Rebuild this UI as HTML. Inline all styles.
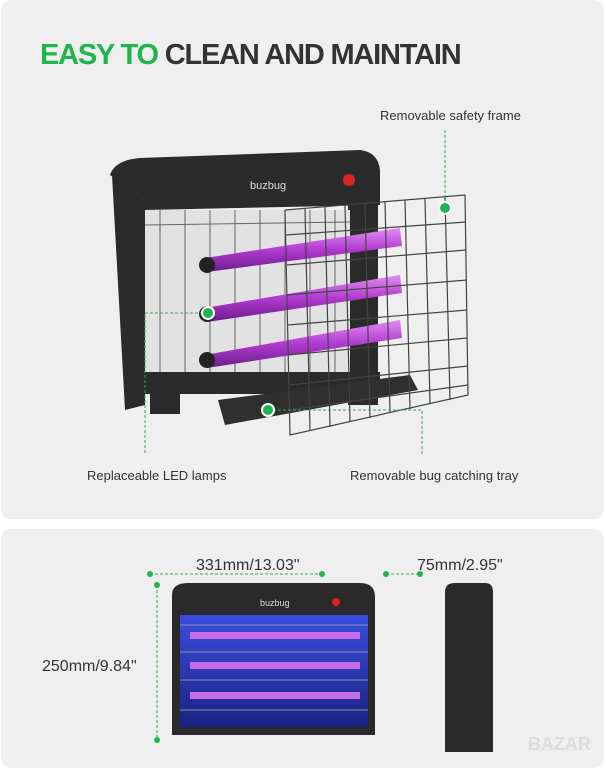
<!DOCTYPE html><html><head><style>
body{margin:0;width:606px;height:768px;background:#fff;overflow:hidden;font-family:"Liberation Sans",sans-serif}
</style></head><body>
<svg width="606" height="768" xmlns="http://www.w3.org/2000/svg" font-family="Liberation Sans, sans-serif">
<defs>
<linearGradient id="uv" x1="0" y1="0" x2="0" y2="1"><stop offset="0" stop-color="#e08cf0"/><stop offset="0.5" stop-color="#b03ad0"/><stop offset="1" stop-color="#6a1c8a"/></linearGradient>
<linearGradient id="blue" x1="0" y1="0" x2="0" y2="1"><stop offset="0" stop-color="#3a4de0"/><stop offset="1" stop-color="#1a2280"/></linearGradient>
</defs>
<rect x="1" y="0" width="603" height="519" rx="10" fill="#efefef"/>
<rect x="1" y="529" width="603" height="239" rx="10" fill="#efefef"/>
<text x="40" y="64" font-size="29" font-weight="bold" letter-spacing="-1.2"><tspan fill="#1fb54a">EASY TO</tspan><tspan fill="#333"> CLEAN AND MAINTAIN</tspan></text>
<!-- main unit frame -->
<path d="M110 175 Q115 160 140 158 L360 150 Q378 152 380 170 L380 205 L145 210 L145 200 Z" fill="#2b2b2b"/>
<path d="M112 175 L145 200 L145 405 L125 410 Z" fill="#2b2b2b"/>
<rect x="348" y="190" width="30" height="215" fill="#2b2b2b"/>
<rect x="145" y="210" width="205" height="165" fill="#e2e2e2"/>
<g stroke="#666" stroke-width="1">
<line x1="160" y1="210" x2="160" y2="375"/><line x1="185" y1="210" x2="185" y2="375"/><line x1="210" y1="210" x2="210" y2="375"/><line x1="235" y1="210" x2="235" y2="375"/><line x1="260" y1="210" x2="260" y2="375"/><line x1="285" y1="210" x2="285" y2="375"/><line x1="310" y1="210" x2="310" y2="375"/><line x1="335" y1="210" x2="335" y2="375"/>
<line x1="145" y1="225" x2="350" y2="222"/>
</g>
<rect x="140" y="372" width="240" height="22" fill="#2b2b2b"/>
<rect x="150" y="394" width="30" height="20" fill="#2b2b2b"/>
<text x="250" y="189" font-size="11" fill="#ddd">buzbug</text>
<circle cx="349" cy="180" r="6" fill="#d22"/>
<g>
<polygon points="205,258 400,228 402,246 207,272" fill="url(#uv)"/>
<polygon points="205,308 400,275 402,293 207,322" fill="url(#uv)"/>
<polygon points="205,355 400,320 402,338 207,368" fill="url(#uv)"/>
<circle cx="207" cy="265" r="8" fill="#222"/><circle cx="207" cy="314" r="8" fill="#222"/><circle cx="207" cy="360" r="8" fill="#222"/>
</g>
<polygon points="218,400 410,375 418,390 225,425" fill="#2f2f2f"/>
<g stroke="#444" stroke-width="1.2" fill="none">
<polygon points="285,210 465,195 468,395 290,435"/>
<line x1="305" y1="209" x2="310" y2="431"/><line x1="325" y1="207" x2="330" y2="427"/><line x1="345" y1="205" x2="350" y2="422"/><line x1="365" y1="204" x2="370" y2="418"/><line x1="385" y1="202" x2="390" y2="413"/><line x1="405" y1="200" x2="410" y2="409"/><line x1="425" y1="199" x2="430" y2="404"/><line x1="445" y1="197" x2="450" y2="400"/>
<line x1="286" y1="235" x2="466" y2="222"/><line x1="287" y1="265" x2="466" y2="250"/><line x1="287" y1="295" x2="467" y2="280"/><line x1="288" y1="325" x2="467" y2="310"/><line x1="288" y1="355" x2="467" y2="338"/><line x1="289" y1="385" x2="468" y2="366"/><line x1="289" y1="410" x2="468" y2="385"/>
</g>
<g stroke="#3aa655" stroke-width="1" stroke-dasharray="3,2" fill="none">
<polyline points="445,208 445,130"/><polyline points="208,313 145,313 145,455"/><polyline points="268,410 422,410 422,455"/>
</g>
<g fill="#1fb54a" stroke="#fff" stroke-width="2"><circle cx="445" cy="208" r="6"/><circle cx="208" cy="313" r="6"/><circle cx="268" cy="410" r="6"/></g>
<text x="380" y="120" font-size="13" fill="#333">Removable safety frame</text>
<text x="87" y="480" font-size="13" fill="#333">Replaceable LED lamps</text>
<text x="350" y="480" font-size="13" fill="#333">Removable bug catching tray</text>
<text x="196" y="570" font-size="16" fill="#333">331mm/13.03"</text>
<text x="417" y="570" font-size="16" fill="#333">75mm/2.95"</text>
<text x="42" y="671" font-size="16" fill="#333">250mm/9.84"</text>
<g stroke="#3aa655" stroke-dasharray="3,2"><line x1="150" y1="574" x2="322" y2="574"/><line x1="386" y1="574" x2="420" y2="574"/><line x1="157" y1="585" x2="157" y2="740"/></g>
<g fill="#1fb54a"><circle cx="150" cy="574" r="3"/><circle cx="322" cy="574" r="3"/><circle cx="386" cy="574" r="3"/><circle cx="420" cy="574" r="3"/><circle cx="157" cy="585" r="3"/><circle cx="157" cy="740" r="3"/></g>
<path d="M172 595 Q172 583 188 583 L360 583 Q375 583 375 597 L375 735 L172 735 Z" fill="#2a2a2a"/>
<rect x="180" y="615" width="188" height="112" fill="url(#blue)"/>
<g fill="#c66ce8"><rect x="190" y="632" width="170" height="7"/><rect x="190" y="662" width="170" height="7"/><rect x="190" y="692" width="170" height="7"/></g>
<g stroke="#8890b0" stroke-width="1"><line x1="180" y1="625" x2="368" y2="625"/><line x1="180" y1="652" x2="368" y2="652"/><line x1="180" y1="680" x2="368" y2="680"/><line x1="180" y1="710" x2="368" y2="710"/></g>
<text x="260" y="606" font-size="9" fill="#ddd">buzbug</text>
<circle cx="336" cy="602" r="4" fill="#d22"/>
<path d="M445 592 Q445 583 455 583 L485 583 Q493 583 493 592 L493 752 L445 752 Z" fill="#2a2a2a"/>
<text x="528" y="750" font-size="18" font-weight="bold" fill="#ddd">BAZAR</text>
</svg>
</body></html>
